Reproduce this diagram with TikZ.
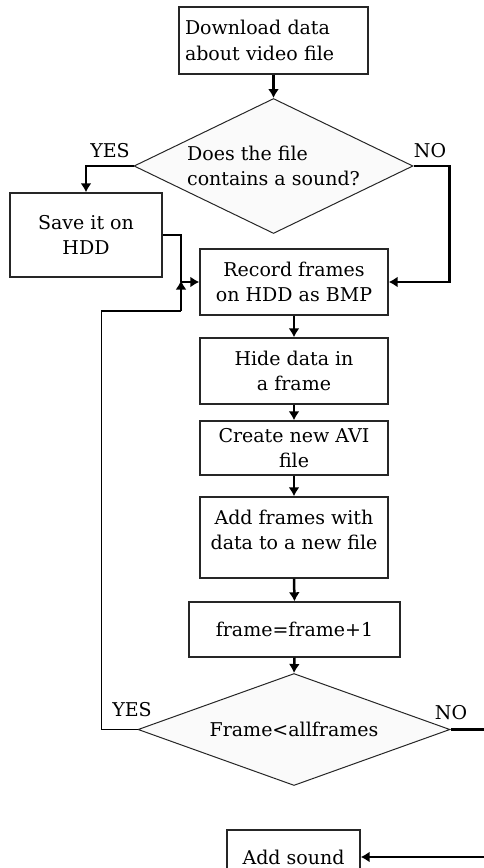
\documentclass[tikz,border=0pt]{standalone}
\usepackage{fontspec}
\setmainfont{DejaVu Serif}
\usetikzlibrary{shapes.geometric,arrows.meta}

\tikzset{
  procbox/.style={draw=black!85, line width=1.4pt, fill=white, inner sep=2pt, align=center},
  decision/.style={diamond, draw=black!85, line width=1pt, fill=black!2, inner sep=0pt},
  flow/.style={line width=2.5pt, -{Latex[length=9pt,width=11pt]}},
  flowline/.style={line width=2.5pt},
  backline/.style={line width=1.3pt},
  lbl/.style={inner sep=0pt}
}

\begin{document}
\begin{tikzpicture}[x=1pt,y=1pt,yscale=-1,xscale=1,font=\fontsize{19}{25.5}\selectfont]
\useasboundingbox (0,0) rectangle (483,868);

%Flowchart: Process
\node (download) [procbox, align=left, text width=177pt, inner xsep=6pt, minimum height=67pt] at (273.5,40.5) {Download data\\about video file};
%Flowchart: Decision
\node (hassound) [decision, minimum width=279pt, minimum height=135pt] at (273.5,166) {};
% Text Node
\node (hassoundtxt) [lbl, align=left] at (hassound.center) {Does the file\\contains a sound?};
%Flowchart: Process
\node (save) [procbox, minimum width=152pt, minimum height=84pt] at (86,235) {Save it on\\HDD};
\node (record) [procbox, minimum width=188pt, minimum height=66pt] at (294,282) {Record frames\\on HDD as BMP};
\node (hide) [procbox, minimum width=188pt, minimum height=66pt] at (294,371) {Hide data in\\a frame};
\node (avi) [procbox, minimum width=188pt, minimum height=54pt] at (294,448) {Create new AVI\\file};
\node (addframes) [procbox, minimum width=188pt, minimum height=81pt] at (294,537.5) {Add frames with\\data to a new file\\[-10pt]~};
\node (next) [procbox, minimum width=211pt, minimum height=55pt] at (294.5,629.5) {frame=frame+1};
%Flowchart: Decision
\node (more) [decision, minimum width=312pt, minimum height=112pt] at (294,729.5) {};
% Text Node
\node (moretxt) [lbl] at (more.center) {Frame<allframes};
%Flowchart: Process
\node (sound) [procbox, minimum width=133pt, minimum height=54pt] at (293.5,857) {Add sound};

% Text Node
\node (yes1) [lbl] at (110,151) {YES};
\node (no1) [lbl] at (430,151) {NO};
\node (yes2) [lbl] at (132,710) {YES};
\node (no2) [lbl] at (451,713) {NO};

%Straight Lines
\draw [flow] (download.south) -- (hassound.north);
\draw [flow] (hassound.west) -| (save.north);
\draw [flow] (hassound.east) -- ++(36,0) |- (record.east);
\coordinate (join) at (181,282);
\draw [flowline] (save.east) -| (join);
\draw [flow] (join) -- (record.west);
\draw [backline] (more.west) -- ++(-36,0) |- (181,311) coordinate (loopend);
\draw [flow] (loopend) -- ([yshift=-1.5pt]join);
\draw [flow] (record.south) -- (hide.north);
\draw [flow] (hide.south) -- (avi.north);
\draw [flow] (avi.south) -- (addframes.north);
\draw [flow] (addframes.south) -- (next.north);
\draw [flow] (next.south) -- (more.north);
\draw [flow] (more.east) -- ++(60,0) |- (sound.east);

\end{tikzpicture}
\end{document}
